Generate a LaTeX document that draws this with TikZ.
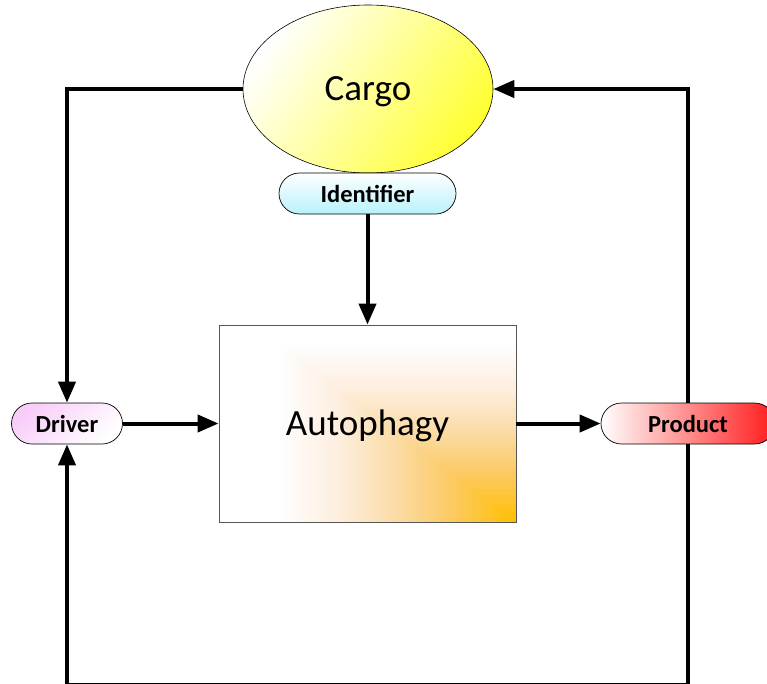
\documentclass[tikz,border=0pt]{standalone}
\usepackage{fontspec}
\setmainfont{Carlito}
\usetikzlibrary{shapes.geometric,shapes.misc,arrows.meta,backgrounds}

\definecolor{cargoY}{HTML}{FFFF33}
\definecolor{idCyan}{HTML}{B8F2FB}
\definecolor{drvPink}{HTML}{F8CCF8}
\definecolor{prodRed}{HTML}{FF1A1A}
\definecolor{glowA}{HTML}{FFBF00}
\definecolor{glowB}{HTML}{FCCB6A}
\definecolor{glowC}{HTML}{FBDBA4}
\definecolor{glowD}{HTML}{FDEEDF}
\definecolor{edgeGray}{HTML}{555555}

\tikzset{
  flow/.style={line width=4pt,-{Triangle[length=21pt,width=17pt]}},
  tag/.style={rounded rectangle, draw=black, line width=0.7pt,
    inner sep=0pt, minimum height=41pt,
    font=\fontsize{24.5}{26}\selectfont\bfseries},
}

% one band of the corner glow: size fraction #1, colour #2
\newcommand\glowband[2]{%
  \fill[#2] (auto.south east) rectangle ++(-240*#1,-180*#1);}

\begin{document}
\begin{tikzpicture}[x=1pt,y=-1pt]
\useasboundingbox (0,0) rectangle (767,683);

% central process
\node[rectangle, draw=edgeGray, line width=0.8pt,
      minimum width=297pt, minimum height=197pt, inner sep=0pt,
      font=\fontsize{37}{40}\selectfont]
  (auto) at (367.5,423.5) {\smash{\raisebox{-11.5pt}{Autophagy}}};

% cargo and its identifier
\node[ellipse, draw=black, line width=0.6pt, inner sep=0pt,
      minimum width=250pt, minimum height=168pt,
      shading=axis, left color=white, right color=cargoY, shading angle=55,
      font=\fontsize{37}{40}\selectfont]
  (cargo) at (368,89) {\smash{\raisebox{-11pt}{Cargo}}};

\node[tag, minimum width=177pt, top color=white, bottom color=idCyan]
  (ident) at (367.5,193.5) {Identifier};

% side inputs and outputs
\node[tag, minimum width=111pt, shading=axis, left color=drvPink,
      right color=white, shading angle=40]
  (driver) at (67,423.5) {Driver};

\node[tag, minimum width=174pt, left color=white, right color=prodRed]
  (product) at (688,423.5) {Product};

\begin{scope}[on background layer]
  % warm glow spreading from the lower right corner of the process box
  \begin{scope}
    \clip (auto.north west) rectangle (auto.south east);
    \fill[white] (auto.north west) rectangle (auto.south east);
    \foreach \k in {60,...,45}{
      \pgfmathsetmacro\d{\k/60}\pgfmathsetmacro\p{(1-\d)/0.25*100}
      \glowband{\d}{glowD!\p!white}}
    \foreach \k in {44,...,30}{
      \pgfmathsetmacro\d{\k/60}\pgfmathsetmacro\p{(0.75-\d)/0.25*100}
      \glowband{\d}{glowC!\p!glowD}}
    \foreach \k in {29,...,18}{
      \pgfmathsetmacro\d{\k/60}\pgfmathsetmacro\p{(0.5-\d)/0.2*100}
      \glowband{\d}{glowB!\p!glowC}}
    \foreach \k in {17,...,1}{
      \pgfmathsetmacro\d{\k/60}\pgfmathsetmacro\p{(0.3-\d)/0.3*100}
      \glowband{\d}{glowA!\p!glowB}}
  \end{scope}
  % feedback loops, running behind the nodes
  \coordinate (botR) at (product.center |- 0,685.3);
  \draw[flow] (product.center) -- (botR) -| (driver.south);
  \draw[flow] (product.center) |- (cargo.east);
\end{scope}

\draw[flow] (cargo.west) -| (driver.north);
\draw[flow] (ident.south) -- (auto.north);
\draw[flow] (driver.east) -- (auto.west);
\draw[flow] (auto.east) -- (product.west);
\end{tikzpicture}
\end{document}
